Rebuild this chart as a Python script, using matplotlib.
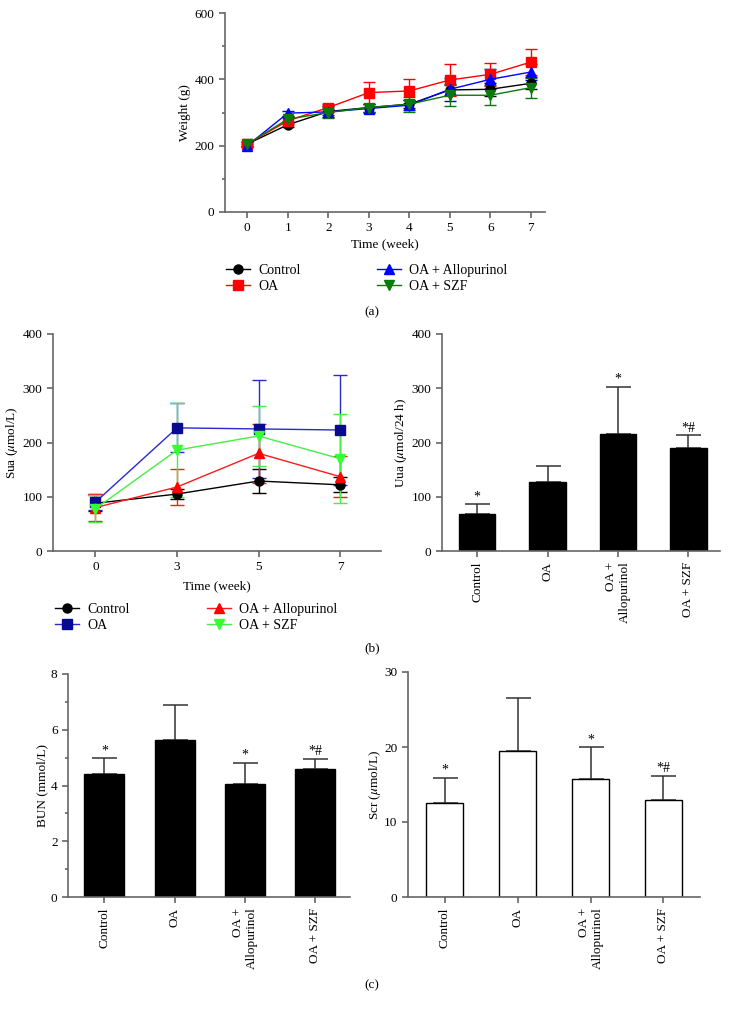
import matplotlib
matplotlib.use("Agg")
import matplotlib.pyplot as plt
from matplotlib.lines import Line2D
from matplotlib.ticker import MultipleLocator

plt.rcParams['font.family'] = ['Liberation Serif', 'DejaVu Serif']
plt.rcParams['mathtext.fontset'] = 'stix'
plt.rcParams['font.size'] = 9.5

# ---- data ----
groups = ['Control', 'OA', 'OA + Allopurinol', 'OA + SZF']
bar_labels = ['Control', 'OA', 'OA +\nAllopurinol', 'OA + SZF']

# (a) body weight
weeks_a = [0, 1, 2, 3, 4, 5, 6, 7]
w_control = [205, 263, 303, 315, 325, 368, 370, 388]
w_oa = [205, 275, 315, 360, 365, 398, 415, 452]
w_allo = [200, 298, 302, 312, 322, 370, 400, 422]
w_szf = [205, 280, 300, 315, 325, 352, 352, 375]
we_control = [5, 8, 18, 12, 12, 15, 20, 18]
we_oa = [5, 10, 12, 33, 35, 48, 35, 40]
we_allo = [5, 8, 10, 15, 15, 35, 30, 25]
we_szf = [5, 10, 18, 12, 22, 33, 30, 30]

# (b) serum uric acid
weeks_b = ['0', '3', '5', '7']
s_control = [88, 105, 129, 122]
s_oa = [90, 227, 225, 223]
s_allo = [80, 118, 180, 137]
s_szf = [78, 186, 212, 170]
se_control = [15, 10, 22, 14]
se_oa = [15, 45, 91, 102]
se_allo = [25, 34, 55, 38]
se_szf = [25, 86, 55, 82]

# urine uric acid
uua = [68, 128, 215, 190]
uua_err = [18, 29, 88, 23]
uua_sig = ['*', '', '*', '*#']

# (c) BUN and Scr
bun = [4.42, 5.63, 4.05, 4.6]
bun_err = [0.55, 1.27, 0.77, 0.35]
bun_sig = ['*', '', '*', '*#']
scr = [12.5, 19.5, 15.8, 13.0]
scr_err = [3.4, 7.1, 4.2, 3.1]
scr_sig = ['*', '', '*', '*#']

W, H = 733, 1015
fig = plt.figure(figsize=(W / 100, H / 100), dpi=100)


def box(l, r, t, b):
    return [l / W, 1 - b / H, (r - l) / W, (b - t) / H]


def style(ax):
    for s in ['top', 'right']:
        ax.spines[s].set_visible(False)
    for s in ['left', 'bottom']:
        ax.spines[s].set_color('#666666')
        ax.spines[s].set_linewidth(1.2)
    ax.tick_params(which='both', color='#666666', width=1.2, direction='out')
    ax.tick_params(which='major', length=4)
    ax.tick_params(which='minor', length=2.5)


def legend_pair(handles, names, x, y):
    # one legend per column so each column sits where the original has it
    fig.legend(handles, names, loc='upper left', bbox_to_anchor=(x / W, 1 - y / H),
               frameon=False, handlelength=1.7, handletextpad=0.6, labelspacing=0.2,
               borderpad=0, borderaxespad=0, fontsize=10)


# ---- (a) ----
ax = fig.add_axes(box(225, 545, 13, 212))
style(ax)
series_a = [(w_control, we_control, 'black', 'o'), (w_oa, we_oa, '#ff0000', 's'),
            (w_allo, we_allo, '#0000ff', '^'), (w_szf, we_szf, '#0a7a0a', 'v')]
handles = []
for vals, errs, c, m in series_a:
    ax.errorbar(weeks_a, vals, yerr=errs, color=c, marker=m, markersize=6.5,
                lw=1, capsize=4, elinewidth=1)
    handles.append(Line2D([], [], color=c, marker=m, markersize=6.5, lw=1))
ax.set_xlim(-0.55, 7.35)
ax.set_ylim(0, 600)
ax.yaxis.set_major_locator(MultipleLocator(200))
ax.yaxis.set_minor_locator(MultipleLocator(100))
ax.set_xticks(weeks_a)
ax.set_xlabel('Time (week)', labelpad=3)
ax.set_ylabel('Weight (g)', labelpad=3)
legend_pair(handles[:2], groups[:2], 226, 264)
legend_pair(handles[2:], groups[2:], 377, 264)
fig.text(372 / W, 1 - 312 / H, '(a)', ha='center', va='center', fontsize=9.5)

# ---- (b) left ----
ax = fig.add_axes(box(53, 381, 334, 551))
style(ax)
xb = range(len(weeks_b))
series_b = [(s_control, se_control, 'black', 'o', 'black'),
            (s_oa, se_oa, '#2a2ad0', 's', '#0a0a90'),
            (s_allo, se_allo, '#ff1a1a', '^', '#ff0000'),
            (s_szf, se_szf, '#44ee44', 'v', '#33ff33')]
handles = []
for vals, errs, c, m, mc in series_b:
    ax.errorbar(xb, vals, yerr=errs, color=c, marker=m, markersize=6.5, mfc=mc, mec=mc,
                lw=1, capsize=5, elinewidth=1)
    handles.append(Line2D([], [], color=c, marker=m, markersize=6.5, mfc=mc, mec=mc, lw=1))
ax.set_xlim(-0.52, 3.5)
ax.set_ylim(0, 400)
ax.yaxis.set_major_locator(MultipleLocator(100))
ax.set_xticks(list(xb))
ax.set_xticklabels(weeks_b)
ax.set_xlabel('Time (week)', labelpad=5)
ax.set_ylabel(r'Sua ($\mu$mol/L)', labelpad=2)
legend_pair(handles[:2], groups[:2], 55, 603)
legend_pair(handles[2:], groups[2:], 207, 603)
fig.text(372 / W, 1 - 648 / H, '(b)', ha='center', va='center', fontsize=9.5)


def bars(ax, vals, errs, sig, face, width, top, step):
    x = range(len(vals))
    ax.bar(x, vals, width=width, color=face, edgecolor='black', linewidth=1, zorder=2)
    ax.errorbar(x, vals, yerr=[[0] * len(vals), errs], fmt='none', ecolor='#333333',
                elinewidth=1.1, capsize=9, capthick=1.1, zorder=1)
    for xi, v, e, s in zip(x, vals, errs, sig):
        if s:
            ax.text(xi, v + e + top * 0.004, s, ha='center', va='bottom', fontsize=10)
    ax.set_xticks(list(x))
    ax.set_xticklabels(bar_labels, rotation=90, ha='center', va='top', multialignment='right')
    ax.set_ylim(0, top)
    ax.yaxis.set_major_locator(MultipleLocator(step))


# ---- (b) right ----
ax = fig.add_axes(box(442, 720, 334, 551))
style(ax)
bars(ax, uua, uua_err, uua_sig, 'black', 0.52, 400, 100)
ax.set_xlim(-0.5, 3.45)
ax.set_ylabel(r'Uua ($\mu$mol/24 h)', labelpad=2)

# ---- (c) left ----
ax = fig.add_axes(box(68, 350, 674, 897))
style(ax)
bars(ax, bun, bun_err, bun_sig, 'black', 0.57, 8, 2)
ax.yaxis.set_minor_locator(MultipleLocator(1))
ax.set_xlim(-0.52, 3.5)
ax.set_ylabel('BUN (mmol/L)', labelpad=2)

# ---- (c) right ----
ax = fig.add_axes(box(408, 700, 672, 897))
style(ax)
bars(ax, scr, scr_err, scr_sig, 'white', 0.52, 30, 10)
ax.set_xlim(-0.5, 3.5)
ax.set_ylabel(r'Scr ($\mu$mol/L)', labelpad=1)
fig.text(372 / W, 1 - 985 / H, '(c)', ha='center', va='center', fontsize=9.5)

fig.savefig('out.png', dpi=100)
